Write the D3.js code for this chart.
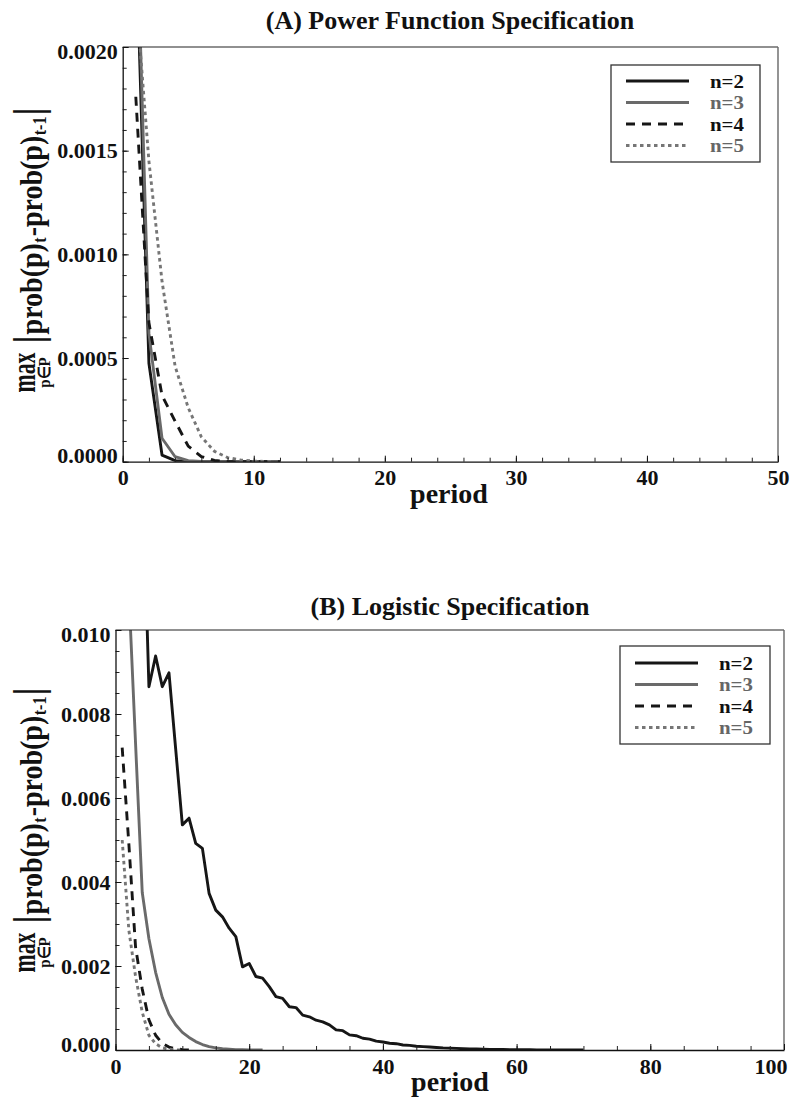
<!DOCTYPE html>
<html>
<head>
<meta charset="utf-8">
<script src="https://cdn.jsdelivr.net/npm/d3@7"></script>
<style>
  body { margin: 0; background: #fff; }
  svg { display: block; }
  text { font-family: "Liberation Serif", "Times New Roman", serif; font-weight: bold; }
</style>
</head>
<body>
<svg id="fig" width="790" height="1099"></svg>
<script>
// ---------- data ----------
const seriesNames = ["n=2", "n=3", "n=4", "n=5"];

// Panel A: power function specification (first period of each series, then values)
const powerStart = [1, 1, 1, 1];
const powerN2 = [0.00256, 0.000475, 0.000032, 0.000005, 0.000001, 0, 0, 0, 0, 0, 0, 0];
const powerN3 = [0.00279, 0.00062, 0.000113, 0.000024, 0.000005, 0.000001, 0, 0, 0, 0, 0, 0];
const powerN4 = [0.00176, 0.00067, 0.00032, 0.000195, 0.000075, 0.000025, 0.000006, 0.000001, 0, 0, 0, 0];
const powerN5 = [0.00226, 0.00145, 0.00087, 0.00046, 0.00026, 0.00012, 0.00005, 0.00002, 0.000008, 0.000003, 0.000001, 0];

// Panel B: logistic specification
const logisticStart = [4, 2, 1, 1];
const logisticN2 = [0.0140, 0.00865, 0.00938, 0.00865, 0.00898, 0.00717, 0.00536, 0.00552, 0.00492, 0.00480,
  0.00373, 0.00333, 0.00317, 0.00290, 0.00270, 0.00198, 0.00206, 0.00175, 0.00171, 0.00151,
  0.00127, 0.00123, 0.00103, 0.00101, 0.00083, 0.00079, 0.00071, 0.00067, 0.00060, 0.00048,
  0.00046, 0.00036, 0.00034, 0.00028, 0.00026, 0.00021, 0.00019, 0.00016, 0.00015, 0.00012,
  0.00011, 0.00009, 0.00008, 0.00007, 0.00006, 0.00005, 0.000045, 0.000038, 0.000032, 0.000027,
  0.000023, 0.000019, 0.000016, 0.000013, 0.000011, 0.000009, 0.000007, 0.000006, 0.000005, 0.000004,
  0.000003, 0.000002, 0.000002, 0.000001, 0.000001, 0.000001, 0];
const logisticN3 = [0.0109, 0.0073, 0.00375, 0.00265, 0.00185, 0.00125, 0.00085, 0.00060, 0.00042, 0.00030,
  0.00020, 0.00013, 0.00008, 0.00005, 0.00003, 0.00002, 0.00001, 0.000006, 0.000003, 0.000001, 0];
const logisticN4 = [0.0072, 0.0049, 0.00245, 0.00145, 0.00072, 0.00035, 0.00016, 0.00007, 0.00003, 0.00001, 0.000004, 0];
const logisticN5 = [0.0050, 0.00285, 0.00175, 0.00090, 0.00035, 0.00015, 0.00005, 0.00002, 0.000005, 0];

// axis ticks
const xTicksA = [0, 10, 20, 30, 40, 50];
const yTicksA = [0, 0.0005, 0.0010, 0.0015, 0.0020];
const xTicksB = [0, 20, 40, 60, 80, 100];
const yTicksB = [0, 0.002, 0.004, 0.006, 0.008, 0.010];

// ---------- styles ----------
const lineStyles = [
  { color: "#161616", width: 2.9, dash: null },
  { color: "#6a6a6a", width: 2.9, dash: null },
  { color: "#161616", width: 2.9, dash: "9,7" },
  { color: "#767676", width: 2.9, dash: "3.5,3.5" }
];
const legendTextColors = ["#111", "#666", "#111", "#666"];

const svg = d3.select("#fig");

function drawPanel(cfg) {
  const x = d3.scaleLinear().domain(cfg.xDomain).range([cfg.left, cfg.right]);
  const y = d3.scaleLinear().domain(cfg.yDomain).range([cfg.bottom, cfg.top]);
  const g = svg.append("g");

  // title
  g.append("text")
    .attr("x", cfg.titleX).attr("y", cfg.titleY)
    .attr("text-anchor", "middle")
    .attr("font-size", 26)
    .attr("fill", "#111")
    .text(cfg.title);

  // clipping for the curves
  const clipId = "clip-" + cfg.id;
  g.append("clipPath").attr("id", clipId)
    .append("rect")
    .attr("x", cfg.left).attr("y", cfg.top)
    .attr("width", cfg.right - cfg.left).attr("height", cfg.bottom - cfg.top);

  const line = d3.line().x(d => x(d[0])).y(d => y(d[1]));
  const curves = g.append("g").attr("clip-path", `url(#${clipId})`);
  cfg.series.forEach((vals, i) => {
    const pts = vals.map((v, k) => [cfg.starts[i] + k, v]);
    const st = lineStyles[i];
    curves.append("path")
      .datum(pts)
      .attr("d", line)
      .attr("fill", "none")
      .attr("stroke", st.color)
      .attr("stroke-width", st.width)
      .attr("stroke-linejoin", "round")
      .attr("stroke-dasharray", st.dash);
  });

  // frame: top and right
  g.append("line").attr("x1", cfg.left).attr("x2", cfg.right).attr("y1", cfg.top).attr("y2", cfg.top)
    .attr("stroke", "#222").attr("stroke-width", 1.2);
  g.append("line").attr("x1", cfg.right).attr("x2", cfg.right).attr("y1", cfg.top).attr("y2", cfg.bottom)
    .attr("stroke", "#666").attr("stroke-width", 1.4);

  // minor ticks
  const xMinor = d3.range(cfg.xDomain[0], cfg.xDomain[1] + 1e-9, cfg.xMinorStep);
  const yMinor = d3.range(0, cfg.yDomain[1] + 1e-12, cfg.yMinorStep);
  g.append("g").attr("transform", `translate(0,${cfg.bottom})`)
    .call(d3.axisBottom(x).tickValues(xMinor).tickSize(-4).tickSizeOuter(0).tickFormat(""))
    .call(a => a.select(".domain").remove())
    .call(a => a.selectAll("line").attr("stroke", "#222"));
  g.append("g").attr("transform", `translate(${cfg.left},0)`)
    .call(d3.axisLeft(y).tickValues(yMinor).tickSize(-4).tickSizeOuter(0).tickFormat(""))
    .call(a => a.select(".domain").remove())
    .call(a => a.selectAll("line").attr("stroke", "#222"));

  // major ticks and labels
  const xa = g.append("g").attr("transform", `translate(0,${cfg.bottom})`)
    .call(d3.axisBottom(x).tickValues(cfg.xTicks).tickSize(-6).tickSizeOuter(0).tickPadding(8).tickFormat(d3.format("d")));
  xa.select(".domain").attr("stroke", "#111").attr("stroke-width", 1.3);
  xa.selectAll("line").attr("stroke", "#111");
  xa.selectAll("text").attr("font-size", 22).attr("font-family", null).attr("fill", "#111");
  if (cfg.lastXLabelEnd) {
    const xLabels = xa.selectAll("text").nodes();
    // keep the last label inside the page
    d3.select(xLabels[xLabels.length - 1]).attr("text-anchor", "end").attr("dx", cfg.lastXLabelEnd);
  }

  const ya = g.append("g").attr("transform", `translate(${cfg.left},0)`)
    .call(d3.axisLeft(y).tickValues(cfg.yTicks).tickSize(-6).tickSizeOuter(0).tickPadding(5).tickFormat(d3.format(cfg.yFormat)));
  ya.select(".domain").attr("stroke", "#111").attr("stroke-width", 1.3);
  ya.selectAll("line").attr("stroke", "#111");
  ya.selectAll("text").attr("font-size", 22).attr("font-family", null).attr("fill", "#111");
  const yLabels = ya.selectAll("text").nodes();
  d3.select(yLabels[0]).attr("dy", "0.05em");
  d3.select(yLabels[yLabels.length - 1]).attr("dy", "0.5em");

  // x axis title
  g.append("text")
    .attr("x", cfg.xLabelX).attr("y", cfg.xLabelY)
    .attr("text-anchor", "middle")
    .attr("font-size", 28)
    .attr("fill", "#111")
    .text("period");

  // y axis title
  drawYLabel(g, cfg.yLabelX, cfg.yLabelCenter);

  // legend
  const L = cfg.legend;
  const lg = g.append("g");
  lg.append("rect")
    .attr("x", L.x).attr("y", L.y).attr("width", L.w).attr("height", L.h)
    .attr("fill", "#fff").attr("stroke", "#333").attr("stroke-width", 1.3);
  seriesNames.forEach((name, i) => {
    const ry = L.y + L.firstRow + i * L.rowGap;
    const st = lineStyles[i];
    lg.append("line")
      .attr("x1", L.x + 15).attr("x2", L.x + 78)
      .attr("y1", ry).attr("y2", ry)
      .attr("stroke", st.color).attr("stroke-width", 3.2)
      .attr("stroke-dasharray", st.dash);
    lg.append("text")
      .attr("x", L.x + 99).attr("y", ry + 6.5)
      .attr("font-size", 18.5)
      .attr("textLength", 34).attr("lengthAdjust", "spacingAndGlyphs")
      .attr("fill", legendTextColors[i])
      .text(name);
  });
}

// rotated label: max_{p∈P} |prob(p)_t - prob(p)_{t-1}|
function drawYLabel(g, cx, cy) {
  const grp = g.append("g").attr("transform", `translate(${cx},${cy}) rotate(-90) scale(1,1.15)`);
  const parts = [
    { s: "max", size: 30, dy: -6, gap: 0, len: 40 },
    { s: "|", size: 37, dy: 0, gap: 9 },
    { s: "prob(p)", size: 28, dy: 0, gap: 1 },
    { s: "t", size: 16, dy: 3.5, gap: 0.5 },
    { s: "-prob(p)", size: 28, dy: 0, gap: 1 },
    { s: "t-1", size: 16, dy: 3.5, gap: 0.5 },
    { s: "|", size: 37, dy: 0, gap: 1 }
  ];
  let u = 0;
  const placed = [];
  parts.forEach(p => {
    u += p.gap;
    const t = grp.append("text")
      .attr("x", u).attr("y", p.dy)
      .attr("font-size", p.size)
      .attr("fill", "#111")
      .text(p.s);
    if (p.len) t.attr("textLength", p.len).attr("lengthAdjust", "spacingAndGlyphs");
    const w = p.len || t.node().getComputedTextLength();
    placed.push({ t, u, w });
    u += w;
  });
  // subscript below "max"
  grp.append("text")
    .attr("x", placed[0].w / 2).attr("y", 7)
    .attr("text-anchor", "middle")
    .attr("font-size", 15)
    .attr("fill", "#111")
    .text("p∈P");
  // centre the whole label on cy
  const shift = -u / 2;
  grp.selectAll("text").each(function () {
    const el = d3.select(this);
    el.attr("x", +el.attr("x") + shift);
  });
}

drawPanel({
  id: "a",
  title: "(A) Power Function Specification",
  titleX: 450, titleY: 29,
  left: 122.7, right: 778, top: 47, bottom: 461.7,
  xDomain: [0, 50], yDomain: [0, 0.002],
  xTicks: xTicksA, yTicks: yTicksA, xMinorStep: 2, yMinorStep: 0.0001,
  yFormat: ".4f", lastXLabelEnd: 0,
  series: [powerN2, powerN3, powerN4, powerN5], starts: powerStart,
  xLabelX: 449, xLabelY: 503,
  yLabelX: 42, yLabelCenter: 250,
  legend: { x: 611, y: 65, w: 149, h: 97, firstRow: 16, rowGap: 21.5 }
});

drawPanel({
  id: "b",
  title: "(B) Logistic Specification",
  titleX: 450, titleY: 615,
  left: 115.5, right: 784, top: 630, bottom: 1050,
  xDomain: [0, 100], yDomain: [0, 0.010],
  xTicks: xTicksB, yTicks: yTicksB, xMinorStep: 5, yMinorStep: 0.0005,
  yFormat: ".3f", lastXLabelEnd: 3,
  series: [logisticN2, logisticN3, logisticN4, logisticN5], starts: logisticStart,
  xLabelX: 450, xLabelY: 1091,
  yLabelX: 42, yLabelCenter: 830,
  legend: { x: 620, y: 646, w: 150, h: 98, firstRow: 17, rowGap: 21.5 }
});
</script>
</body>
</html>
